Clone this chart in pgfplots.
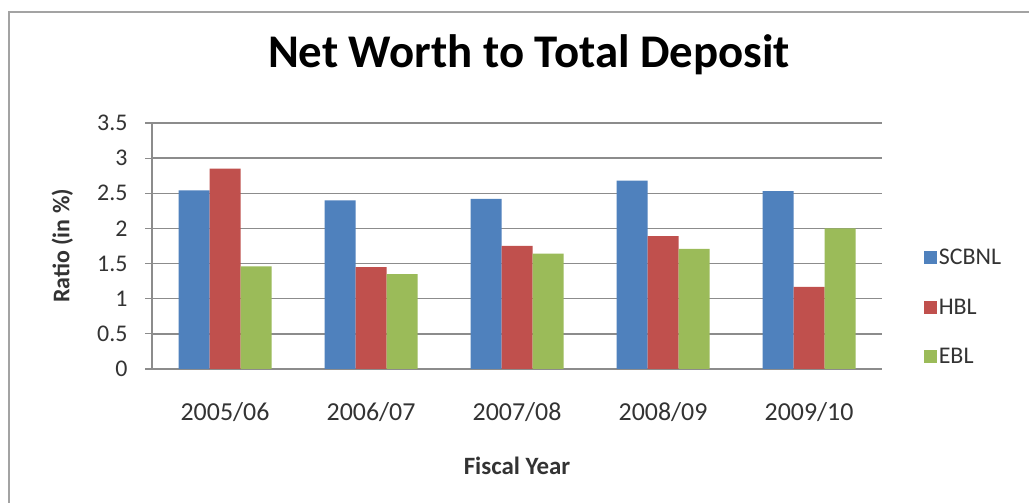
\documentclass[border=0pt]{standalone}
\usepackage{fontspec}
\setmainfont{Carlito}
\usepackage{pgfplots}
\pgfplotsset{compat=1.18}
\definecolor{cBlue}{HTML}{4F81BD}
\definecolor{cRed}{HTML}{C0504D}
\definecolor{cGreen}{HTML}{9BBB59}
\definecolor{cGrid}{HTML}{8C8C8C}
\definecolor{cText}{HTML}{333333}
\begin{document}
\begin{tikzpicture}[x=1bp,y=1bp]
\useasboundingbox (0,0) rectangle (1029,503);
\fill[white] (0,0) rectangle (1029,503);
\draw[cGrid!80, line width=2bp] (9,0) -- (9,491) -- (1029,491);
\node[anchor=base, font=\fontsize{47}{52}\selectfont\bfseries, inner sep=0] at (529,435) {Net Worth to Total Deposit};
\begin{axis}[
  at={(152bp,134bp)}, anchor=south west,
  scale only axis, width=730bp, height=246bp,
  xmin=-0.5, xmax=4.5, ymin=0, ymax=3.5,
  ybar=0pt, bar width=31bp,
  xtick={0,1,2,3,4},
  xticklabels={2005/06,2006/07,2007/08,2008/09,2009/10},
  ytick={0,0.5,1,1.5,2,2.5,3,3.5},
  yticklabels={0,0.5,1,1.5,2,2.5,3,3.5},
  major x tick style={draw=none},
  ytick style={cGrid, line width=1.2bp},
  major tick length=7bp,
  tick align=outside,
  ymajorgrids, grid style={cGrid, line width=1.5bp},
  axis line style={cGrid, line width=1.2bp},
  axis x line*=bottom, axis y line*=left,
  x axis line style={-}, y axis line style={-},
  ticklabel style={font=\fontsize{24}{28}\selectfont, text=cText},
  yticklabel style={xshift=-14bp},
  xticklabel style={yshift=-23bp, font=\fontsize{26}{30}\selectfont},
  xlabel={Fiscal Year}, ylabel={Ratio (in \%)},
  xlabel style={at={(axis description cs:0.5,0)}, anchor=base, yshift=-106bp, font=\fontsize{25}{29}\selectfont\bfseries, text=cText},
  ylabel style={at={(axis description cs:-0.123,0.5)}, anchor=center, font=\fontsize{24}{28}\selectfont\bfseries, text=cText},
  legend style={at={(1.057,0.252)}, anchor=west, draw=none, fill=none, inner sep=0pt,
    font=\fontsize{24}{28}\selectfont, text=cText, row sep=29bp,
    nodes={inner sep=2bp}},
  legend cell align=left,
  legend image code/.code={\fill[#1, draw=none] (0bp,-6.5bp) rectangle (13bp,6.5bp);},
]
\addplot[fill=cBlue, draw=none] coordinates {(0,2.54) (1,2.40) (2,2.42) (3,2.68) (4,2.53)};
\addplot[fill=cRed, draw=none] coordinates {(0,2.85) (1,1.45) (2,1.75) (3,1.89) (4,1.17)};
\addplot[fill=cGreen, draw=none] coordinates {(0,1.46) (1,1.35) (2,1.64) (3,1.71) (4,2.00)};
\legend{SCBNL,HBL,EBL}
\end{axis}
\end{tikzpicture}
\end{document}
